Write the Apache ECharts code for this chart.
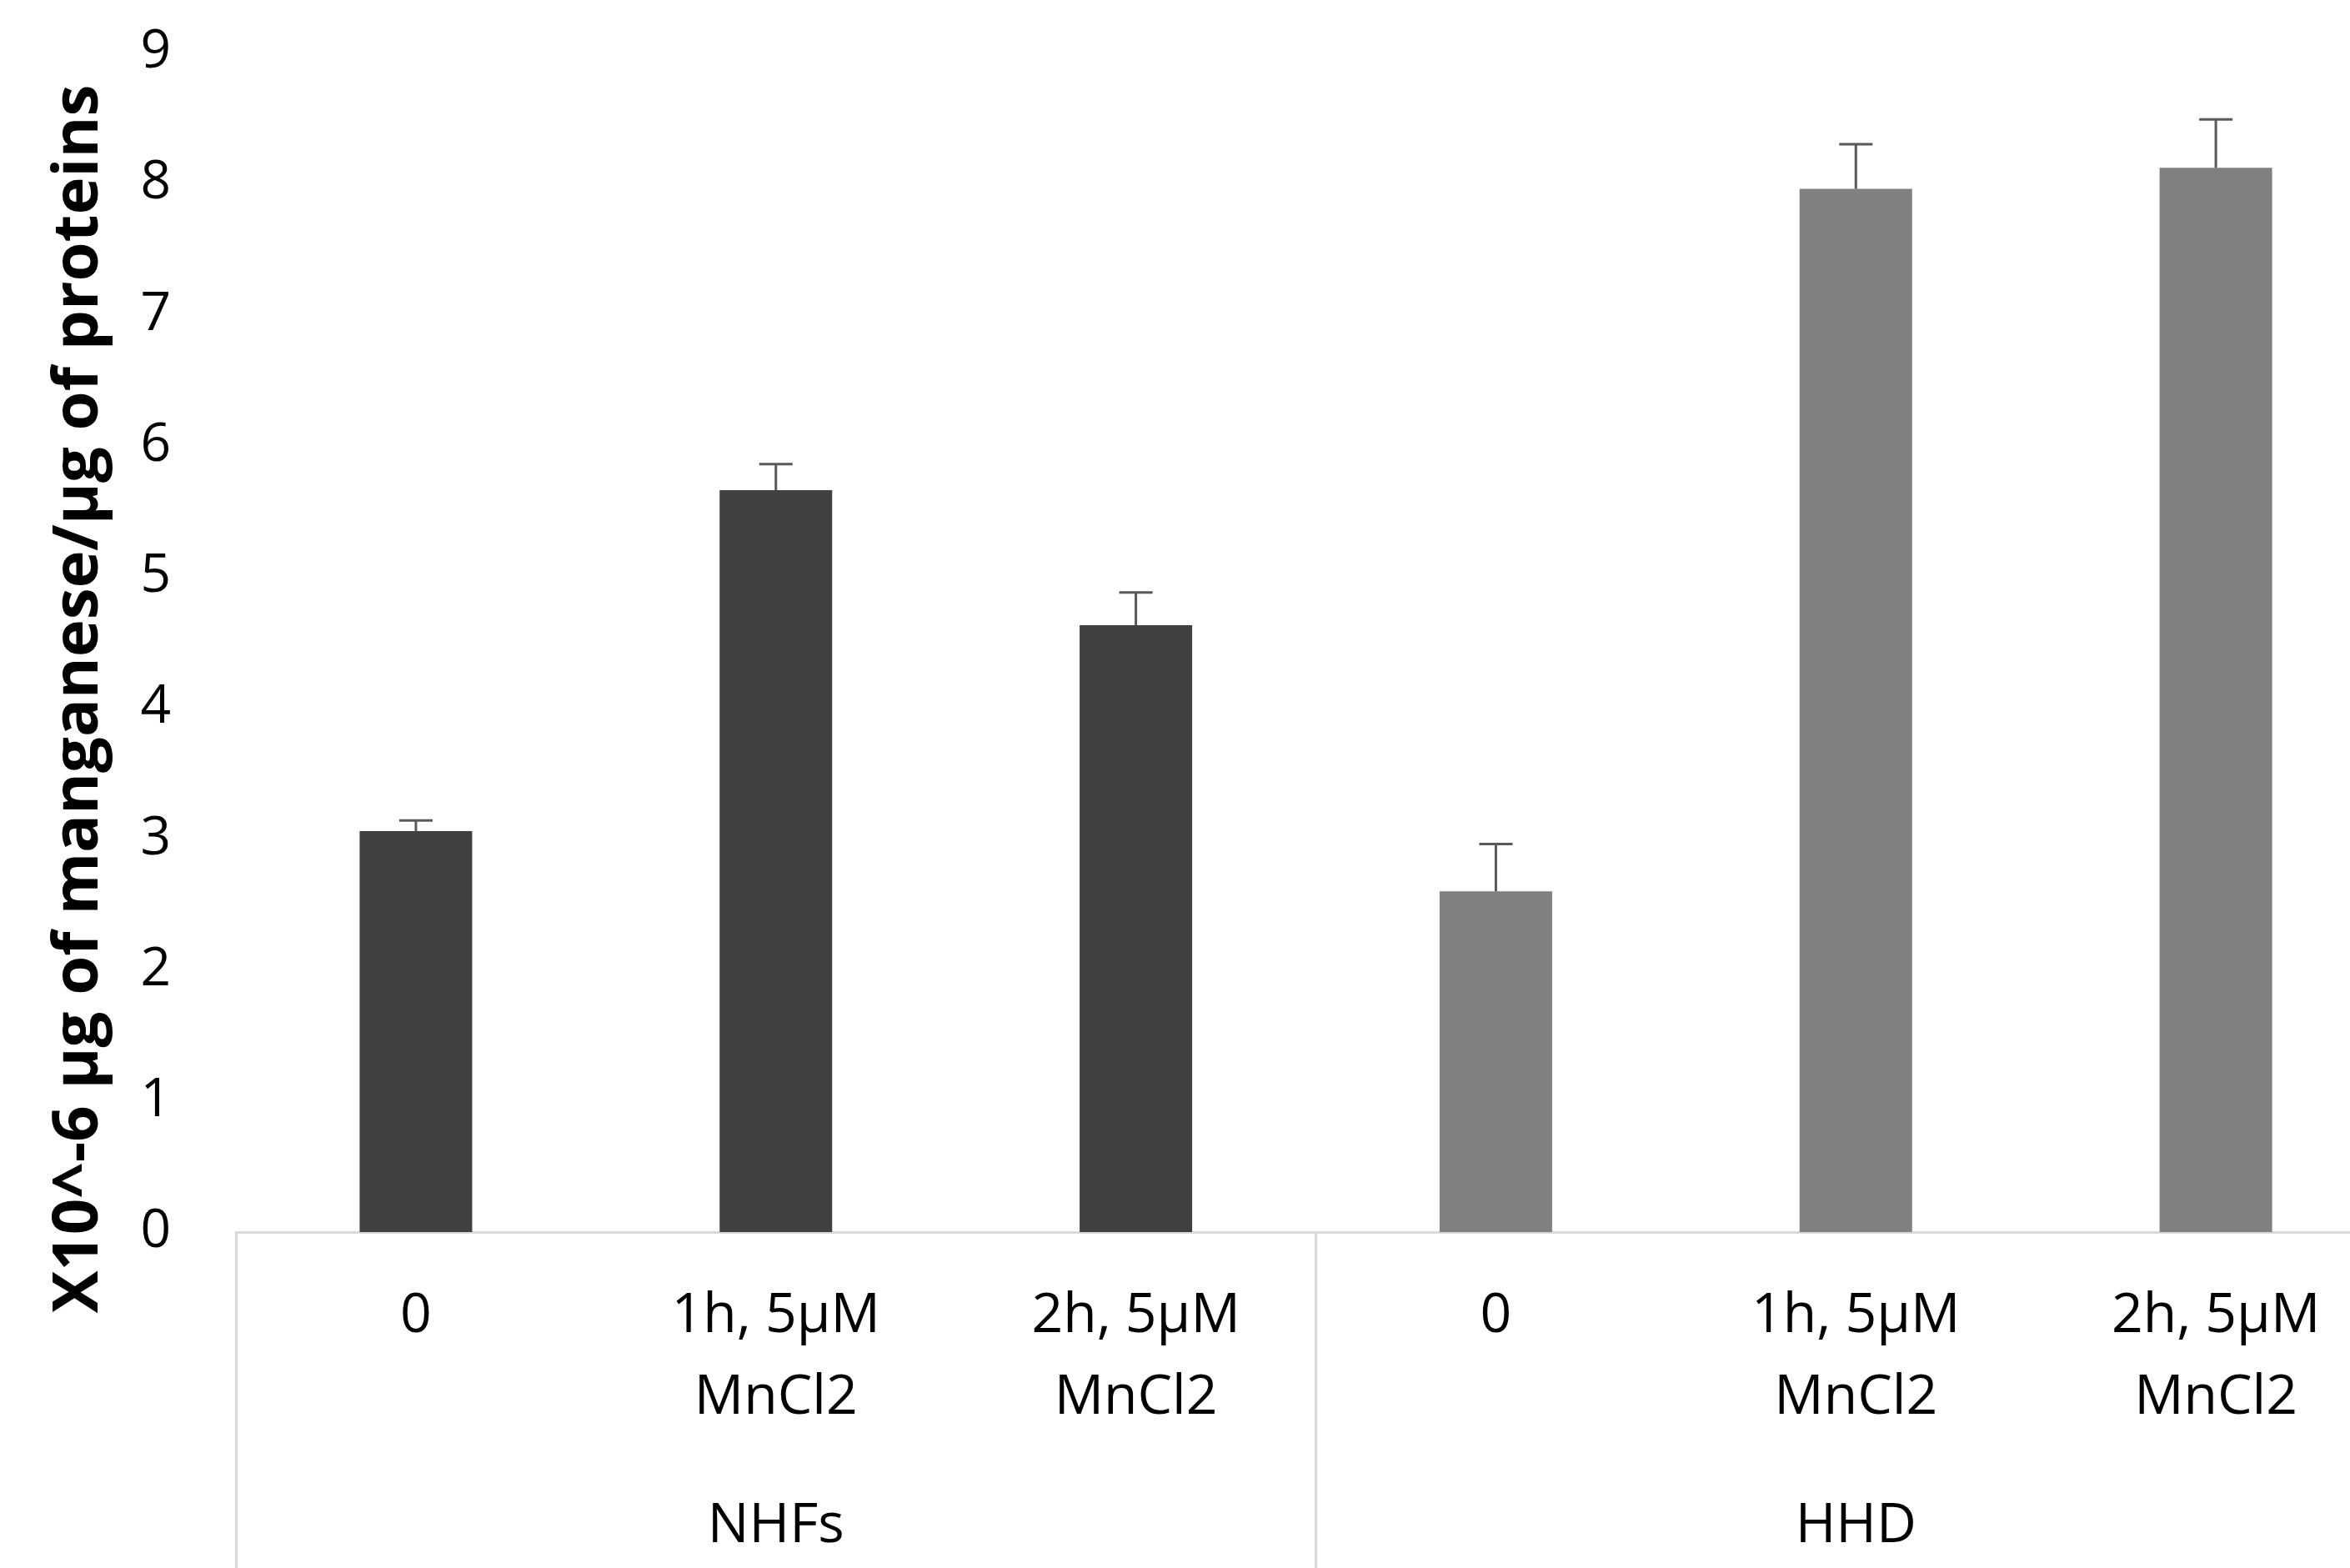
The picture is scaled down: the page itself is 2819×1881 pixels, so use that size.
<!DOCTYPE html>
<html>
<head>
<meta charset="utf-8">
<script src="https://cdn.jsdelivr.net/npm/echarts@6/dist/echarts.min.js"></script>
<style>
html,body{margin:0;padding:0;background:#fff;}
#chart{width:2819px;height:1881px;}
</style>
</head>
<body>
<div id="chart"></div>
<script>
// ---- data ----
const categories = ['0', '1h, 5µM\nMnCl2', '2h, 5µM\nMnCl2', '0', '1h, 5µM\nMnCl2', '2h, 5µM\nMnCl2'];
const groups = ['NHFs', 'HHD'];
const values = [3.06, 5.66, 4.63, 2.60, 7.96, 8.12];
const errors = [0.08, 0.20, 0.25, 0.36, 0.34, 0.37];
const yTicks = { min: 0, max: 9, interval: 1 };
const yTitle = 'X10^-6 µg of manganese/µg of proteins';

// ---- chart ----
const groupColors = ['#404040', '#808080'];
const chart = echarts.init(document.getElementById('chart'), null, { renderer: 'canvas' });

const errData = values.map((v, i) => [i, v, errors[i]]);

chart.setOption({
  animation: false,
  backgroundColor: '#ffffff',
  grid: { left: 283, top: 63, width: 2591, bottom: 403, containLabel: false, outerBoundsMode: 'none' },
  xAxis: [
    {
      type: 'category',
      data: categories,
      position: 'bottom',
      axisLine: { show: true, lineStyle: { color: '#d9d9d9', width: 3 } },
      axisTick: { show: false },
      splitLine: { show: false },
      axisLabel: {
        interval: 0,
        margin: 52,
        color: '#000000',
        fontFamily: 'Open Sans',
        fontSize: 66,
        lineHeight: 98,
        align: 'center'
      }
    },
    {
      type: 'category',
      data: groups,
      position: 'bottom',
      offset: 0,
      axisLine: { show: false },
      axisTick: { show: true, length: 420, lineStyle: { color: '#d9d9d9', width: 3 } },
      splitLine: { show: false },
      axisLabel: {
        interval: 0,
        margin: 319,
        color: '#000000',
        fontFamily: 'Open Sans',
        fontSize: 66,
        lineHeight: 68
      }
    }
  ],
  yAxis: {
    type: 'value',
    min: yTicks.min,
    max: yTicks.max,
    interval: yTicks.interval,
    axisLine: { show: false },
    axisTick: { show: false },
    splitLine: { show: false },
    axisLabel: {
      margin: 78,
      color: '#000000',
      fontFamily: 'Open Sans',
      fontSize: 64
    },
    name: yTitle,
    nameLocation: 'middle',
    nameGap: 150,
    nameTextStyle: {
      color: '#000000',
      fontFamily: 'Open Sans',
      fontWeight: 'bold',
      fontSize: 76,
      padding: [0, 136, 0, 0]
    }
  },
  series: [
    {
      type: 'bar',
      xAxisIndex: 0,
      data: values,
      barWidth: 135,
      itemStyle: {
        color: function (p) { return p.dataIndex < 3 ? groupColors[0] : groupColors[1]; }
      }
    },
    {
      type: 'custom',
      xAxisIndex: 0,
      data: errData,
      encode: { x: 0, y: 1 },
      z: 5,
      renderItem: function (params, api) {
        const idx = api.value(0);
        const v = api.value(1);
        const e = api.value(2);
        const base = api.coord([idx, v]);
        const top = api.coord([idx, v + e]);
        const half = 20;
        const style = { stroke: '#595959', lineWidth: 3 };
        return {
          type: 'group',
          children: [
            { type: 'line', shape: { x1: base[0], y1: base[1], x2: top[0], y2: top[1] }, style: style },
            { type: 'line', shape: { x1: top[0] - half, y1: top[1], x2: top[0] + half, y2: top[1] }, style: style }
          ]
        };
      }
    }
  ]
});
</script>
</body>
</html>
